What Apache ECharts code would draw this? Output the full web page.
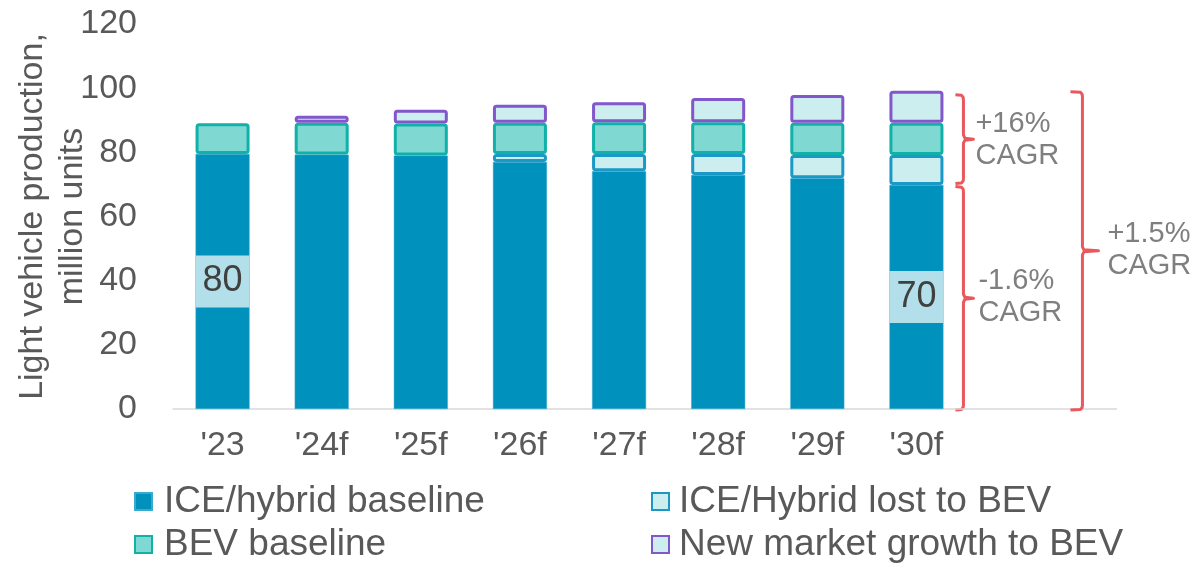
<!DOCTYPE html>
<html>
<head>
<meta charset="utf-8">
<script src="https://cdn.jsdelivr.net/npm/echarts@6/dist/echarts.min.js"></script>
<style>
html,body{margin:0;padding:0;background:#fff;}
#chart{width:1193px;height:563px;}
</style>
</head>
<body>
<div id="chart"></div>
<script>
const categories = ["'23", "'24f", "'25f", "'26f", "'27f", "'28f", "'29f", "'30f"];
const iceBaseline = [79.5, 79.3, 79.0, 77.0, 74.1, 72.9, 71.9, 69.8];
const iceLost     = [0, 0, 0, 2.5, 5.4, 6.6, 7.3, 9.4];
const bevBaseline = [9.6, 9.9, 10.0, 9.7, 9.9, 9.9, 10.0, 10.0];
const newGrowth   = [0, 2.2, 4.3, 5.6, 6.2, 7.5, 8.7, 10.0];
const labelledBars = [0, 7];
const seriesNames = ['ICE/hybrid baseline', 'ICE/Hybrid lost to BEV', 'BEV baseline', 'New market growth to BEV'];
const cagrTexts = ['+16%\nCAGR', '-1.6%\nCAGR', '+1.5%\nCAGR'];
const yAxisName = 'Light vehicle production,\nmillion units';

const FONT = "'Liberation Sans', Arial, sans-serif";
const TXT = '#595959';
const chart = echarts.init(document.getElementById('chart'), null, {renderer: 'canvas'});

const toData = arr => arr.map(v => v === 0 ? '-' : v);

const legendBase = {
  orient: 'vertical', top: 483, height: 80, padding: 0, icon: 'rect',
  itemWidth: 17, itemHeight: 17, itemGap: 6,
  textStyle: {fontSize: 37, color: TXT, fontFamily: FONT, lineHeight: 36, padding: [0, 0, 0, 7]}
};

const option = {
  animation: false,
  textStyle: {fontFamily: FONT},
  grid: {left: 173, right: 227, top: 24, bottom: 154, containLabel: false, outerBoundsMode: 'none'},
  legend: [
    Object.assign({}, legendBase, {data: [seriesNames[0], seriesNames[2]], left: 134, width: 480}),
    Object.assign({}, legendBase, {data: [seriesNames[1], seriesNames[3]], left: 651, width: 540,
      textStyle: Object.assign({}, legendBase.textStyle, {padding: [0, 0, 0, 5]})})
  ],
  xAxis: {
    type: 'category', data: categories,
    axisLine: {lineStyle: {color: '#d9d9d9', width: 1.5}},
    axisTick: {show: false},
    axisLabel: {fontSize: 34, color: TXT, margin: 20, fontFamily: FONT}
  },
  yAxis: {
    type: 'value', min: 0, max: 120, interval: 20,
    name: yAxisName, nameLocation: 'middle', nameGap: 80, nameRotate: 90,
    nameMoveOverlap: false,
    nameTextStyle: {fontSize: 34, color: TXT, lineHeight: 40, fontFamily: FONT},
    axisLine: {show: false}, axisTick: {show: false}, splitLine: {show: false},
    axisLabel: {fontSize: 34, color: TXT, margin: 36, fontFamily: FONT}
  },
  series: [
    {
      name: seriesNames[0], type: 'bar', stack: 'total', barWidth: 54,
      itemStyle: {color: '#0092bc', borderColor: '#3aa9cf', borderWidth: 0.5},
      label: {
        show: false, position: 'inside',
        formatter: p => String(Math.round(p.value)),
        backgroundColor: '#b3dfea', color: '#404040', fontSize: 36, fontFamily: FONT,
        width: 54, height: 52, lineHeight: 52, align: 'center', verticalAlign: 'middle'
      },
      data: iceBaseline.map((v, i) => ({value: v, label: {show: labelledBars.includes(i)}}))
    },
    {
      name: seriesNames[1], type: 'bar', stack: 'total', barWidth: 54,
      itemStyle: {color: '#cdeeee', borderColor: '#1a98c6', borderWidth: 3, borderRadius: 2},
      data: toData(iceLost)
    },
    {
      name: seriesNames[2], type: 'bar', stack: 'total', barWidth: 54,
      itemStyle: {color: '#80d8d3', borderColor: '#10b1a9', borderWidth: 3, borderRadius: 2},
      data: toData(bevBaseline)
    },
    {
      name: seriesNames[3], type: 'bar', stack: 'total', barWidth: 54,
      itemStyle: {color: '#cdeeee', borderColor: '#8157cb', borderWidth: 3, borderRadius: 2},
      data: toData(newGrowth)
    }
  ]
};
chart.setOption(option);

// Annotations positioned through the chart's own scales
const last = categories.length - 1;
const total = iceBaseline[last] + iceLost[last] + bevBaseline[last] + newGrowth[last];
const yPix = v => chart.convertToPixel({yAxisIndex: 0}, v);
const xPix = c => chart.convertToPixel({xAxisIndex: 0}, c);
const xLast = xPix(categories[last]);
const y0 = yPix(0);
const yTop = yPix(total);
const yMid = yPix(iceBaseline[last]);
const RED = '#e9585d';

function brace(x, y1, y2, hook, nub) {
  const ym = (y1 + y2) / 2;
  return {
    type: 'polyline',
    shape: {points: [
      [x - hook, y1], [x - 2, y1 + 0.6], [x - 0.3, y1 + 2.5], [x, y1 + 5],
      [x, ym - 4], [x + 1.5, ym - 1], [x + nub, ym],
      [x + 1.5, ym + 1], [x, ym + 4],
      [x, y2 - 5], [x - 0.3, y2 - 2.5], [x - 2, y2 - 0.6], [x - hook, y2]
    ]},
    style: {stroke: RED, lineWidth: 3, fill: null, lineJoin: 'round'}
  };
}
const xA = xLast + 47;
const xC = xLast + 166;
const txtStyle = (x, y, t) => ({
  type: 'text', x: x, y: y,
  style: {text: t, fill: '#7f7f7f', fontSize: 29, fontFamily: FONT, lineHeight: 32,
          align: 'left', verticalAlign: 'middle'}
});
chart.setOption({
  graphic: [
    {type: 'line', shape: {x1: xLast + 49.5, y1: y0, x2: 1117, y2: y0},
     style: {stroke: '#d9d9d9', lineWidth: 1.5}, z: 0},
    brace(xA, yTop + 4, yMid - 1.5, 8, 10),
    brace(xA, yMid + 1.5, y0 + 1, 8, 10),
    brace(xC, yTop + 1, y0 + 1, 12, 16),
    txtStyle(xA + 12, (yTop + yMid) / 2 + 2, cagrTexts[0]),
    txtStyle(xA + 15, (yMid + y0) / 2, cagrTexts[1]),
    txtStyle(xC + 25, (yTop + y0) / 2, cagrTexts[2])
  ]
});
</script>
</body>
</html>
